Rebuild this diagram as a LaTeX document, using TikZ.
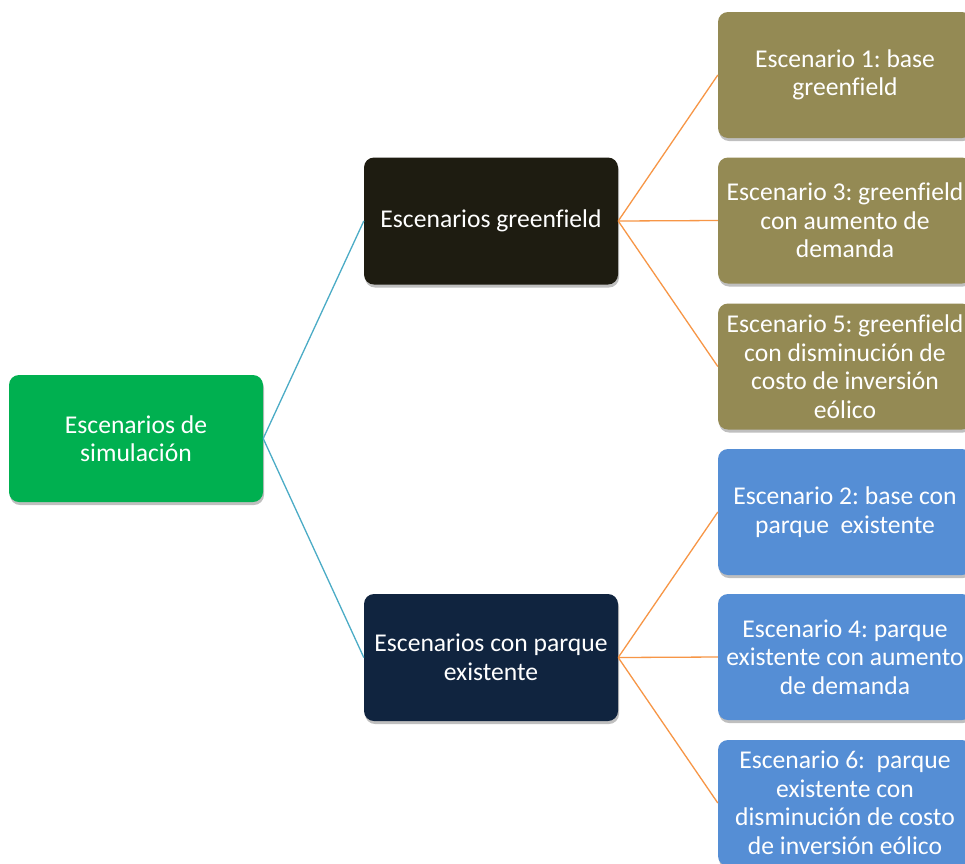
\documentclass[tikz,border=0pt]{standalone}
\usepackage{fontspec}
\setmainfont{Carlito}[Ligatures=CommonOff]
\frenchspacing
\usetikzlibrary{shadows}
\definecolor{rootgreen}{HTML}{00B050}
\definecolor{gfdark}{HTML}{1E1C11}
\definecolor{pqnavy}{HTML}{10243F}
\definecolor{olive}{HTML}{948A54}
\definecolor{skyblue}{HTML}{558ED5}
\definecolor{tealline}{HTML}{4BACC6}
\definecolor{orangeline}{HTML}{F79646}
\tikzset{
  box/.style={rounded corners=10pt, text=white, align=center,
    font=\fontsize{25.6}{28.5}\selectfont, inner sep=0pt,
    drop shadow={shadow xshift=1pt, shadow yshift=-3pt, opacity=0.25, fill=black}},
  midbox/.style={box, minimum width=254pt, minimum height=127pt},
  leaf/.style={box, minimum width=254pt, minimum height=126pt},
  tline/.style={draw=tealline, line width=1.3pt},
  oline/.style={draw=orangeline, line width=1.3pt}
}
\begin{document}
\begin{tikzpicture}[x=1pt,y=-1pt]
\useasboundingbox[fill=white] (0,0) rectangle (965,863);
\node[midbox, fill=rootgreen] (root) at (136,438.5) {Escenarios de\\simulación};
\node[midbox, fill=gfdark] (gf) at (491,221) {Escenarios greenfield};
\node[midbox, fill=pqnavy] (pq) at (491,657.5) {Escenarios con parque\\existente};
\node[leaf, fill=olive] (e1) at (845,75) {Escenario 1: base\\greenfield};
\node[leaf, fill=olive] (e3) at (845,220.5) {Escenario 3: greenfield\\con aumento de\\demanda};
\node[leaf, fill=olive] (e5) at (845,366.5) {Escenario 5: greenfield\\con disminución de\\costo de inversión\\eólico};
\node[leaf, fill=skyblue] (e2) at (845,512) {Escenario 2: base con\\parque\ \ existente};
\node[leaf, fill=skyblue] (e4) at (845,657) {Escenario 4: parque\\existente con aumento\\de demanda};
\node[leaf, fill=skyblue] (e6) at (845,803) {Escenario 6:\ \ parque\\existente con\\disminución de costo\\de inversión eólico};
\draw[tline] (root.east) -- (gf.west);
\draw[tline] (root.east) -- (pq.west);
\draw[oline] (gf.east) -- (e1.west);
\draw[oline] (gf.east) -- (e3.west);
\draw[oline] (gf.east) -- (e5.west);
\draw[oline] (pq.east) -- (e2.west);
\draw[oline] (pq.east) -- (e4.west);
\draw[oline] (pq.east) -- (e6.west);
\end{tikzpicture}
\end{document}
